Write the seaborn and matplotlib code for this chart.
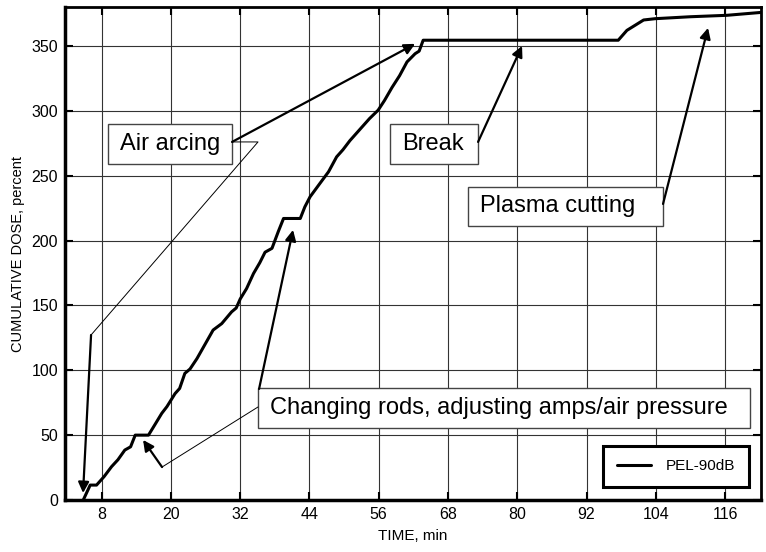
import seaborn as sns
import matplotlib.pyplot as plt
from matplotlib.patches import Rectangle

# cumulative dose curve
time_min = [4.8, 6.0, 7.1, 8.4, 9.7, 10.8, 12.0, 13.0, 13.8, 16.1, 17.2, 18.4, 19.3,
            20.7, 21.5, 22.4, 23.3, 24.5, 25.9, 27.3, 28.8, 30.5, 31.3, 32.0, 33.1,
            34.3, 35.4, 36.3, 37.5, 38.6, 39.5, 42.4, 43.2, 44.1, 45.8, 47.3, 48.7,
            49.8, 51.0, 52.8, 54.4, 55.9, 57.0, 58.3, 59.6, 60.9, 62.3, 63.0, 63.7,
            97.5, 99.0, 101.9, 103.9, 110.0, 116.3, 122.7]
dose_pct = [0, 11.5, 11.5, 18, 25.7, 31, 38.5, 41, 50, 50, 58, 66.8, 72,
            82, 86, 97.6, 101, 109, 120, 131, 136, 145, 148, 155, 163,
            174.6, 183, 191, 194, 207, 217, 217, 226, 233.7, 244, 253, 264.5,
            270, 277, 286, 294, 300.5, 308, 318, 327, 337.7, 344, 346, 354.4,
            354.4, 362, 370, 371, 372.5, 373.6, 376]
series_name = "PEL-90dB"

x_ticks = [8, 20, 32, 44, 56, 68, 80, 92, 104, 116]
y_ticks = [0, 50, 100, 150, 200, 250, 300, 350]

# annotation labels
labels = ["Air arcing", "Break", "Plasma cutting",
          "Changing rods, adjusting amps/air pressure"]

sns.set_theme(style="ticks")
plt.rcParams["font.family"] = ["Liberation Sans", "DejaVu Sans"]
plt.rcParams["text.color"] = "black"
plt.rcParams["axes.labelcolor"] = "black"

fig = plt.figure(figsize=(7.66, 5.52), dpi=100)
ax = fig.add_axes([0.0849, 0.0942, 0.9086, 0.8931])

sns.lineplot(x=time_min, y=dose_pct, ax=ax, color="black", lw=2.2,
             label=series_name, estimator=None, zorder=3)

ax.set_xlim(1.64, 122.24)
ax.set_ylim(0, 380)
ax.set_xticks(x_ticks)
ax.set_yticks(y_ticks)
ax.grid(True, color="#333333", lw=0.8)
ax.set_axisbelow(True)
ax.tick_params(direction="in", length=6, width=1.5, top=True, right=True,
               labeltop=False, labelright=False, labelsize=11.5,
               colors="black", pad=5)
ax.set_xlabel("TIME, min", fontsize=11, labelpad=5, color="black")
ax.set_ylabel("CUMULATIVE DOSE, percent", fontsize=10.5, labelpad=5, color="black")
for side, w in [("left", 2.5), ("bottom", 2.5), ("top", 2.0), ("right", 2.0)]:
    ax.spines[side].set_linewidth(w)
    ax.spines[side].set_color("black")

# label boxes (x0, x1, y0, y1 in data units)
boxes = [(9.09, 30.58, 259.1, 289.9),
         (57.96, 73.21, 259.1, 289.9),
         (71.47, 105.26, 211.3, 241.3),
         (35.08, 120.33, 55.5, 86.4)]
for (x0, x1, y0, y1), txt in zip(boxes, labels):
    ax.add_patch(Rectangle((x0, y0), x1 - x0, y1 - y0, facecolor="white",
                           edgecolor="#444444", lw=1.0, zorder=4))
    ax.text(x0 + 2.1, (y0 + y1) / 2, txt, fontsize=17, ha="left",
            va="center", color="black", zorder=5)

arrow = dict(arrowstyle="-|>", color="black", lw=1.6, mutation_scale=16,
             shrinkA=0, shrinkB=0)
# thick arrows: (tail, head)
arrows = [((30.58, 276), (62.3, 351.6)),
          ((73.21, 276), (80.83, 350)),
          ((105.26, 228.2), (113.06, 363.9)),
          ((35.26, 85.6), (41.15, 208.2)),
          ((18.45, 25.4), (15.16, 46.3)),
          ((6.15, 127.2), (4.76, 5.4))]
for tail, head in arrows:
    ax.annotate("", xy=head, xytext=tail, arrowprops=arrow, zorder=6)

# thin leader lines
ax.plot([30.58, 35.08, 6.15], [276, 276, 127.2], color="black", lw=0.7, zorder=6)
ax.plot([35.08, 18.45], [71.7, 25.4], color="black", lw=0.7, zorder=6)

leg = ax.legend(loc="lower right", bbox_to_anchor=(0.983, 0.026),
                borderaxespad=0, fontsize=11, frameon=True, fancybox=False,
                handlelength=2.2, handletextpad=1.0, borderpad=0.9)
leg.get_frame().set_edgecolor("black")
leg.get_frame().set_linewidth(2.2)
leg.get_frame().set_alpha(1)
for t in leg.get_texts():
    t.set_color("black")

fig.savefig("out.png", dpi=100)
